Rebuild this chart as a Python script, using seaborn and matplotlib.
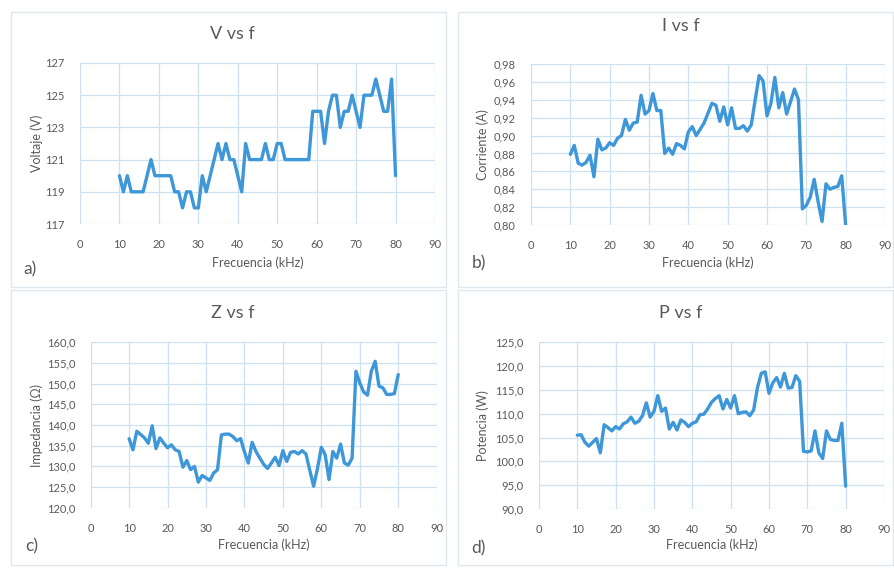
import numpy as np
import pandas as pd
import matplotlib
matplotlib.use('Agg')
import matplotlib.pyplot as plt
import seaborn as sns
from matplotlib.patches import Rectangle
from matplotlib.ticker import FuncFormatter

# frecuencia (kHz)
freq = list(range(10, 81))

voltaje = [120, 119, 120, 119, 119, 119, 119, 120, 121, 120,
           120, 120, 120, 120, 119, 119, 118, 119, 119, 118,
           118, 120, 119, 120, 121, 122, 121, 122, 121, 121,
           120, 119, 122, 121, 121, 121, 121, 122, 121, 121,
           122, 122, 121, 121, 121, 121, 121, 121, 121, 124,
           124, 124, 122, 124, 125, 125, 123, 124, 124, 125,
           124, 123, 125, 125, 125, 126, 125, 124, 124, 126,
           120]

corriente = [0.879, 0.889, 0.869, 0.867, 0.870, 0.878, 0.854, 0.896, 0.884, 0.886,
             0.892, 0.889, 0.897, 0.900, 0.918, 0.906, 0.914, 0.915, 0.945, 0.924,
             0.928, 0.947, 0.928, 0.928, 0.880, 0.886, 0.879, 0.891, 0.889, 0.885,
             0.904, 0.910, 0.900, 0.907, 0.914, 0.925, 0.936, 0.934, 0.916, 0.932,
             0.912, 0.931, 0.908, 0.908, 0.911, 0.905, 0.912, 0.940, 0.967, 0.961,
             0.922, 0.936, 0.965, 0.931, 0.948, 0.924, 0.938, 0.952, 0.940, 0.818,
             0.822, 0.831, 0.851, 0.826, 0.804, 0.846, 0.840, 0.842, 0.843, 0.855,
             0.800]

impedancia = [136.7, 134.0, 138.5, 137.7, 136.9, 135.6, 139.8, 134.3, 136.9, 135.6,
              134.5, 135.2, 134.0, 133.6, 129.8, 131.4, 129.2, 130.0, 126.2, 127.8,
              127.2, 126.6, 128.4, 129.2, 137.6, 137.8, 137.8, 137.2, 136.2, 136.7,
              133.5, 130.8, 135.8, 133.6, 132.0, 130.5, 129.5, 130.8, 132.2, 130.2,
              133.8, 131.2, 133.4, 133.6, 133.0, 133.8, 133.0, 129.0, 125.2, 129.5,
              134.6, 132.8, 126.8, 133.6, 132.0, 135.4, 130.8, 130.3, 132.0, 153.0,
              150.2, 148.0, 147.2, 153.0, 155.4, 149.4, 149.0, 147.4, 147.4, 147.6,
              152.2]

potencia = [105.5, 105.6, 104.0, 103.2, 104.0, 104.8, 101.8, 107.7, 107.1, 106.4,
            107.3, 106.8, 107.9, 108.3, 109.3, 108.0, 108.4, 109.6, 112.3, 109.3,
            110.5, 113.8, 110.5, 111.2, 106.8, 108.2, 106.6, 108.7, 108.2, 107.3,
            108.0, 108.3, 109.8, 109.9, 111.0, 112.4, 113.2, 113.8, 111.0, 113.0,
            111.2, 113.8, 110.0, 110.3, 110.4, 109.6, 110.8, 115.5, 118.5, 118.8,
            114.3, 116.5, 117.6, 115.6, 118.5, 115.4, 115.5, 118.0, 116.8, 102.1,
            102.0, 102.2, 106.4, 101.8, 100.6, 106.4, 104.6, 104.4, 104.4, 108.0,
            94.8]

titulos = ['V vs f', 'I vs f', 'Z vs f', 'P vs f']
etiquetas_y = ['Voltaje (V)', 'Corriente (A)', 'Impedancia (\u03a9)', 'Potencia (W)']
letras = ['a)', 'b)', 'c)', 'd)']

sns.set_theme(style='white')
plt.rcParams['font.family'] = ['Lato', 'DejaVu Sans']

gris = '#595959'
azul = '#3d97d8'
rejilla = '#cfe1f0'

fig = plt.figure(figsize=(8.95, 5.69), dpi=100)
fig.patch.set_facecolor('white')

# marcos de cada grafico (estilo Excel)
for x0, y0 in [(0.0123, 0.4956), (0.5117, 0.4956), (0.0123, 0.007), (0.5117, 0.007)]:
    fig.patches.append(Rectangle((x0, y0), 0.486, 0.4833, transform=fig.transFigure,
                                 fill=False, edgecolor='#dfe7ee', lw=1))

posiciones = [[0.0894, 0.6063, 0.3966, 0.2830],
              [0.5933, 0.6046, 0.3955, 0.2829],
              [0.1013, 0.1077, 0.3866, 0.2907],
              [0.6022, 0.1054, 0.3855, 0.2930]]

datos = [voltaje, corriente, impedancia, potencia]
yticks = [np.arange(117, 128, 2), np.arange(0.80, 0.981, 0.02),
          np.arange(120, 161, 5), np.arange(90, 126, 5)]
formatos = [lambda v, p: f'{v:.0f}',
            lambda v, p: f'{v:.2f}'.replace('.', ','),
            lambda v, p: f'{v:.1f}'.replace('.', ','),
            lambda v, p: f'{v:.1f}'.replace('.', ',')]
ylab_x = [-0.121, -0.136, -0.155, -0.162]
xlab_y = [-0.242, -0.236, -0.225, -0.216]

for i in range(4):
    ax = fig.add_axes(posiciones[i])
    sns.lineplot(x=freq, y=datos[i], ax=ax, color=azul, lw=2.4)
    ax.lines[0].set_solid_joinstyle('round')
    ax.set_xlim(0, 90)
    ax.set_ylim(yticks[i][0], yticks[i][-1])
    ax.set_xticks(range(0, 91, 10))
    ax.set_yticks(yticks[i])
    ax.yaxis.set_major_formatter(FuncFormatter(formatos[i]))
    ax.grid(True, color=rejilla, lw=0.9)
    for s in ax.spines.values():
        s.set_visible(False)
    ax.tick_params(length=0, labelsize=8, labelcolor=gris, pad=11)
    ax.tick_params(axis='x', pad=11)
    ax.set_xlabel('Frecuencia (kHz)', fontsize=9, color=gris)
    ax.set_ylabel(etiquetas_y[i], fontsize=9, color=gris)
    ax.xaxis.set_label_coords(0.5, xlab_y[i])
    ax.xaxis.label.set_va('center')
    ax.yaxis.set_label_coords(ylab_x[i], 0.5)
    ax.yaxis.label.set_va('center')

# titulos y letras de cada panel
fig.text(0.260, 0.940, titulos[0], ha='center', va='center', fontsize=13, color=gris)
fig.text(0.761, 0.954, titulos[1], ha='center', va='center', fontsize=13, color=gris)
fig.text(0.260, 0.450, titulos[2], ha='center', va='center', fontsize=13, color=gris)
fig.text(0.761, 0.450, titulos[3], ha='center', va='center', fontsize=13, color=gris)

fig.text(0.0257, 0.527, letras[0], ha='left', va='center', fontsize=12.5, color=gris)
fig.text(0.527, 0.538, letras[1], ha='left', va='center', fontsize=12.5, color=gris)
fig.text(0.028, 0.039, letras[2], ha='left', va='center', fontsize=12.5, color=gris)
fig.text(0.527, 0.037, letras[3], ha='left', va='center', fontsize=12.5, color=gris)

fig.savefig('out.png', dpi=100, facecolor='white')
